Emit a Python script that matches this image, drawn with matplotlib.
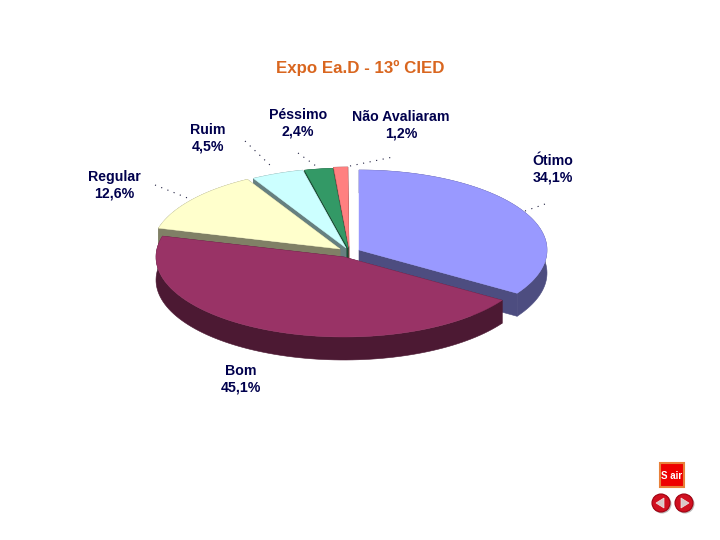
import numpy as np
import matplotlib
matplotlib.use('Agg')
import matplotlib.pyplot as plt
from matplotlib.patches import Polygon, Circle, Rectangle

# values as printed on the slide
categories = ['Ótimo', 'Bom', 'Regular', 'Ruim', 'Péssimo', 'Não Avaliaram']
values = [34.1, 45.1, 12.6, 4.5, 2.4, 1.2]
value_labels = ['34,1%', '45,1%', '12,6%', '4,5%', '2,4%', '1,2%']
title = 'Expo Ea.D - 13º CIED'

top_colors = ['#9999FF', '#993366', '#FFFFCC', '#CCFFFF', '#339966', '#FF8080']
wall_colors = ['#4D4D80', '#4C1933', '#808066', '#668080', '#1A4D33', '#804040']

# pie geometry in picture pixels
RX, RY, DEPTH = 188, 80, 23
apex = [(359, 250), (344, 257), (340, 249), (346, 248), (348, 248), (349, 247)]
label_pos = [(553, 169), (241, 379), (114, 185), (208, 138), (298, 123), (401, 125)]
leaders = [((525, 211), (548, 203)), None, ((155, 185), (190, 199)),
           ((245, 141), (272, 167)), ((298, 153), (316, 166)), ((350, 166), (393, 157))]

plt.rcParams['font.family'] = ['Liberation Sans', 'DejaVu Sans']
NAVY = '#00004D'

fig = plt.figure(figsize=(7.2, 5.4), dpi=100)
ax = fig.add_axes([0, 0, 1, 1])
ax.set_xlim(0, 720)
ax.set_ylim(540, 0)
ax.axis('off')


def slice_arc(center, start, end):
    t = np.radians(np.linspace(start, end, 90))
    x = center[0] + RX * np.sin(t)
    y = center[1] - RY * np.cos(t)
    return np.column_stack([x, y])


edges = np.cumsum([0] + values) * 3.6
drop = np.array([0, DEPTH])

# back to front, each top hides the wall of the slice behind it
for i in [5, 4, 3, 2, 0, 1]:
    arc = slice_arc(apex[i], edges[i], edges[i + 1])
    corner = np.array(apex[i], dtype=float)
    wall_parts = [
        np.vstack([arc, (arc + drop)[::-1]]),
        [corner, arc[0], arc[0] + drop, corner + drop],
        [corner, arc[-1], arc[-1] + drop, corner + drop],
    ]
    for part in wall_parts:
        ax.add_patch(Polygon(part, closed=True, fc=wall_colors[i], ec=wall_colors[i], lw=0.4))
    ax.add_patch(Polygon(np.vstack([[corner], arc]), closed=True, fc=top_colors[i],
                         ec=top_colors[i], lw=0.3))

for name, val, pos, line in zip(categories, value_labels, label_pos, leaders):
    ax.text(pos[0], pos[1], name + '\n' + val, ha='center', va='center', fontsize=10.2,
            fontweight='bold', color=NAVY, linespacing=1.2)
    if line:
        ax.plot([line[0][0], line[1][0]], [line[0][1], line[1][1]], color='#202040',
                lw=0.8, ls=(0, (1, 5)))

ax.text(360, 68, title, ha='center', va='center', fontsize=12.2, fontweight='bold', color='#D9661F')

# navigation buttons of the slide
ax.add_patch(Rectangle((660, 463), 24, 24, fc='#EE0000', ec='#E8813A', lw=1.5))
ax.text(672, 476, 'S air', ha='center', va='center', fontsize=7, fontweight='bold', color='white')
for cx, d in [(661, -1), (684, 1)]:
    ax.add_patch(Circle((cx + 1, 504), 9.5, fc='#BBBBBB', ec='none'))
    ax.add_patch(Circle((cx, 503), 9, fc='#D01020', ec='#A00010', lw=0.8))
    ax.add_patch(Polygon([(cx + 5 * d, 503), (cx - 3 * d, 498), (cx - 3 * d, 508)], closed=True,
                         fc='#D8C8C8', ec='#F0E0E0', lw=0.5))

fig.savefig('out.png', dpi=100)
